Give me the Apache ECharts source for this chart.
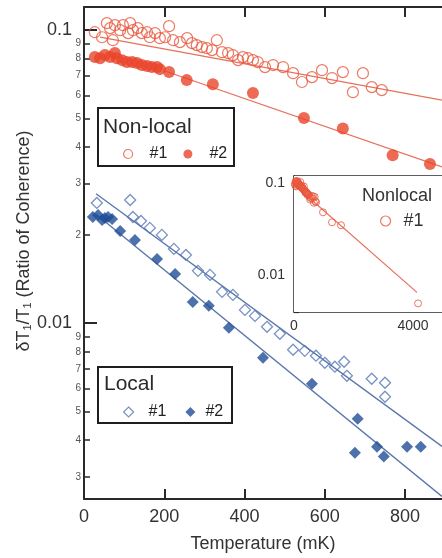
<!DOCTYPE html>
<html>
<head>
<meta charset="utf-8">
<script src="https://cdn.jsdelivr.net/npm/echarts@6/dist/echarts.min.js"></script>
<style>
  html, body { margin: 0; padding: 0; background: #fff; }
  #chart { width: 442px; height: 558px; }
</style>
</head>
<body>
<div id="chart"></div>
<script>
// Temperature (mK) and coherence ratio for each sample
const nonlocal1T = [27, 45, 57, 65, 72, 77, 90, 97, 110, 115, 122, 134, 144, 157, 164, 177, 189, 202, 212, 222,
  239, 257, 269, 281, 294, 306, 319, 331, 344, 359, 371, 384, 396, 408, 421, 433, 451, 471, 496, 521,
  543, 568, 593, 618, 645, 670, 695, 717, 742];
const nonlocal1V = [0.0984, 0.0946, 0.1057, 0.1016, 0.0924, 0.1040, 0.1000, 0.1040, 0.0977, 0.1057, 0.1000, 0.1016,
  0.0977, 0.0984, 0.0946, 0.0977, 0.0939, 0.0946, 0.1032, 0.0924, 0.0910, 0.0939, 0.0903, 0.0889, 0.0875,
  0.0868, 0.0855, 0.0924, 0.0841, 0.0835, 0.0822, 0.0790, 0.0809, 0.0802, 0.0790, 0.0778, 0.0748, 0.0760,
  0.0748, 0.0713, 0.0665, 0.0691, 0.0730, 0.0686, 0.0719, 0.0614, 0.0713, 0.0639, 0.0624];

const nonlocal2T = [27, 40, 52, 65, 77, 82, 95, 107, 120, 132, 144, 157, 169, 182, 189, 212, 256, 321, 421, 548, 645, 769, 862];
const nonlocal2V = [0.0809, 0.0802, 0.0822, 0.0809, 0.0835, 0.0802, 0.0790, 0.0778, 0.0778, 0.0772, 0.0760, 0.0754,
  0.0748, 0.0748, 0.0736, 0.0719, 0.0675, 0.0654, 0.0610, 0.0501, 0.0461, 0.0374, 0.0349];

const local1T = [32, 115, 122, 142, 164, 194, 224, 254, 284, 314, 344, 371, 401, 426, 456, 488, 521, 550, 578, 600,
  625, 648, 655, 717, 750, 750];
const local1V = [0.02568, 0.02629, 0.02300, 0.02229, 0.02110, 0.01997, 0.01789, 0.01706, 0.01505, 0.01458, 0.01276,
  0.01246, 0.01107, 0.01056, 0.00969, 0.00917, 0.00809, 0.00802, 0.00772, 0.00730, 0.00708, 0.00736, 0.00659,
  0.00644, 0.00624, 0.00559];

const local2T = [22, 35, 45, 52, 60, 70, 90, 127, 182, 227, 271, 311, 361, 446, 568, 682, 675, 730, 747, 805, 839];
const local2V = [0.02300, 0.02337, 0.02246, 0.02282, 0.02300, 0.02264, 0.02061, 0.01920, 0.01653, 0.01469, 0.01179,
  0.01143, 0.00961, 0.00760, 0.00619, 0.00470, 0.00360, 0.00377, 0.00349, 0.00377, 0.00377];

// Straight-line (exponential) fits, given by their end points
const nonlocal1FitT = [40, 892];  const nonlocal1FitV = [0.0947, 0.0577];
const nonlocal2FitT = [200, 892]; const nonlocal2FitV = [0.0727, 0.0341];
const local1FitT = [30, 892];     const local1FitV = [0.0276, 0.00378];
const local2FitT = [30, 892];     const local2FitV = [0.0235, 0.00255];

// Inset: non-local #1 over the wider temperature range
const insetExtraT = [975, 1277, 1580, 4170];
const insetExtraV = [0.0484, 0.0377, 0.0350, 0.00496];
const insetFitT = [0, 4134];
const insetFitV = [0.097, 0.00654];

// Axis ticks and labels
const xTicks = [0, 200, 400, 600, 800];
const yMajorTicks = [0.01, 0.1];
const yMajorLabels = ['0.01', '0.1'];
const yMinorTicks = [0.003, 0.004, 0.005, 0.006, 0.007, 0.008, 0.009,
  0.02, 0.03, 0.04, 0.05, 0.06, 0.07, 0.08, 0.09];
const yMinorLabels = ['3', '4', '5', '6', '7', '8', '9', '2', '3', '4', '5', '6', '7', '8', '9'];
const insetXTicks = [2000, 4000];
const insetXLabels = [0, 4000];
const insetYMajorTicks = [0.01, 0.1];
const insetYMinorTicks = [0.004, 0.005, 0.006, 0.007, 0.008, 0.009,
  0.02, 0.03, 0.04, 0.05, 0.06, 0.07, 0.08, 0.09];

const zip = (xs, ys) => xs.map((x, i) => [x, ys[i]]);
const lookup = (ticks, labels) => v => {
  const i = ticks.findIndex(t => Math.abs(t - v) < t * 1e-6);
  return i >= 0 ? labels[i] : '';
};
const plain = v => String(v);

const FONT = '"Liberation Sans", Arial, Helvetica, sans-serif';
const AX = '#2a2a2a';
const TXT = '#333';
const RED = '#e8452b';
const RED_OPEN = '#e8583d';
const RED_LINE = '#e6705a';
const BLUE = '#1f4e96';
const BLUE_OPEN = '#5677b3';
const BLUE_LINE = '#5a76ab';

const MAIN_X = [0, 892];
const MAIN_Y = [0.0025, 0.12];
const INSET_X = [0, 4975];
const INSET_Y = [0.004, 0.12];

const chart = echarts.init(document.getElementById('chart'), null, { renderer: 'canvas' });

const openStyle = (c, w) => ({ color: 'rgba(255,255,255,0)', borderColor: c, borderWidth: w });

chart.setOption({
  animation: false,
  backgroundColor: '#fff',
  textStyle: { fontFamily: FONT },
  grid: [
    { left: 84, top: 7, right: 0, bottom: 58 },
    { left: 84, top: 7, right: 0, bottom: 58 },
    { left: 294, top: 176, right: 0, bottom: 246, show: true, backgroundColor: '#fff', borderWidth: 0, z: 4 },
    { left: 294, top: 176, right: 0, bottom: 246 }
  ],
  xAxis: [
    {
      gridIndex: 0, type: 'value', min: MAIN_X[0], max: MAIN_X[1], position: 'bottom',
      axisLine: { lineStyle: { color: AX, width: 2 } },
      axisTick: { inside: true, length: 10, customValues: xTicks, lineStyle: { color: AX, width: 2 } },
      axisLabel: { customValues: xTicks, formatter: plain, fontSize: 18, color: TXT, margin: 9, fontFamily: FONT },
      splitLine: { show: false },
      name: 'Temperature (mK)', nameLocation: 'middle', nameGap: 36,
      nameTextStyle: { fontSize: 18, color: TXT, fontFamily: FONT }
    },
    {
      gridIndex: 0, type: 'value', min: MAIN_X[0], max: MAIN_X[1], position: 'top',
      axisLine: { lineStyle: { color: AX, width: 2 } },
      axisTick: { inside: true, length: 10, customValues: xTicks, lineStyle: { color: AX, width: 2 } },
      axisLabel: { show: false },
      splitLine: { show: false }
    },
    { gridIndex: 1, type: 'value', min: MAIN_X[0], max: MAIN_X[1], show: false },
    {
      gridIndex: 2, type: 'value', min: INSET_X[0], max: INSET_X[1], position: 'bottom',
      axisLine: { lineStyle: { color: AX, width: 1.5 } },
      axisTick: { inside: true, length: 7, customValues: insetXTicks, lineStyle: { color: AX, width: 1.5 } },
      axisLabel: { customValues: insetXLabels, formatter: plain, fontSize: 14, color: TXT, margin: 7, fontFamily: FONT },
      splitLine: { show: false }
    },
    {
      gridIndex: 2, type: 'value', min: INSET_X[0], max: INSET_X[1], position: 'top',
      axisLine: { lineStyle: { color: AX, width: 1.5 } },
      axisTick: { show: false }, axisLabel: { show: false }, splitLine: { show: false }
    },
    { gridIndex: 3, type: 'value', min: INSET_X[0], max: INSET_X[1], show: false }
  ],
  yAxis: [
    {
      gridIndex: 0, type: 'log', logBase: 10, min: MAIN_Y[0], max: MAIN_Y[1], position: 'left',
      axisLine: { lineStyle: { color: AX, width: 2 } },
      axisTick: { inside: true, length: 13, customValues: yMajorTicks, lineStyle: { color: AX, width: 2 } },
      axisLabel: { customValues: yMajorTicks, formatter: lookup(yMajorTicks, yMajorLabels),
        fontSize: 18, color: TXT, margin: 12, fontFamily: FONT },
      splitLine: { show: false },
      name: 'δT₁/T₁ (Ratio of Coherence)', nameLocation: 'middle', nameGap: 51, nameMoveOverlap: false,
      nameTextStyle: { fontSize: 18, color: TXT, fontFamily: FONT, padding: [0, 0, 0, 24] }
    },
    {
      gridIndex: 1, type: 'log', logBase: 10, min: MAIN_Y[0], max: MAIN_Y[1], position: 'left',
      axisLine: { show: false },
      axisTick: { inside: true, length: 6, customValues: yMinorTicks, lineStyle: { color: AX, width: 1.5 } },
      axisLabel: { customValues: yMinorTicks, formatter: lookup(yMinorTicks, yMinorLabels),
        fontSize: 10, color: '#555', margin: 3, fontFamily: FONT },
      splitLine: { show: false }
    },
    {
      gridIndex: 2, type: 'log', logBase: 10, min: INSET_Y[0], max: INSET_Y[1], position: 'left',
      axisLine: { lineStyle: { color: AX, width: 1.5 } },
      axisTick: { inside: true, length: 9, customValues: insetYMajorTicks, lineStyle: { color: AX, width: 1.5 } },
      axisLabel: { customValues: insetYMajorTicks, formatter: lookup(yMajorTicks, yMajorLabels),
        fontSize: 14, color: TXT, margin: 9, fontFamily: FONT },
      splitLine: { show: false }
    },
    {
      gridIndex: 3, type: 'log', logBase: 10, min: INSET_Y[0], max: INSET_Y[1], position: 'left',
      axisLine: { show: false },
      axisTick: { inside: true, length: 5, customValues: insetYMinorTicks, lineStyle: { color: AX, width: 1.2 } },
      axisLabel: { show: false },
      splitLine: { show: false }
    }
  ],
  legend: [
    {
      data: ['Non-local #1', 'Non-local #2'],
      left: 118, top: 141, itemWidth: 9, itemHeight: 9, itemGap: 16, z: 8,
      formatter: n => n.slice(n.indexOf('#')),
      textStyle: { fontSize: 16, color: '#222', fontFamily: FONT, padding: [0, 0, 0, 12] },
      itemStyle: { borderWidth: 1.2 }
    },
    {
      data: [
        { name: 'Local #1', textStyle: { padding: [0, 0, 0, 10] } },
        { name: 'Local #2', textStyle: { padding: [0, 0, 0, 5] } }
      ],
      left: 118, top: 399, itemWidth: 10, itemHeight: 10, itemGap: 19, z: 8,
      formatter: n => n.slice(n.indexOf('#')),
      textStyle: { fontSize: 16, color: '#222', fontFamily: FONT },
      itemStyle: { borderWidth: 1.2 }
    },
    {
      data: ['Nonlocal #1 (wide range)'],
      left: 375, top: 207, itemWidth: 10, itemHeight: 10, z: 8,
      formatter: n => n.slice(n.indexOf('#'), n.indexOf('#') + 2),
      textStyle: { fontSize: 18, color: TXT, fontFamily: FONT, padding: [0, 0, 0, 8] },
      itemStyle: { borderWidth: 1.2 }
    }
  ],
  graphic: [
    { type: 'rect', z: 6, shape: { x: 98, y: 108, width: 136, height: 58 },
      style: { fill: '#fff', stroke: '#1e1e1e', lineWidth: 2 } },
    { type: 'text', z: 7, x: 103, y: 127,
      style: { text: 'Non-local', fontSize: 21, fontFamily: FONT, fill: '#2a2a2a', verticalAlign: 'middle' } },
    { type: 'rect', z: 6, shape: { x: 98, y: 367, width: 134, height: 56 },
      style: { fill: '#fff', stroke: '#1e1e1e', lineWidth: 2 } },
    { type: 'text', z: 7, x: 104, y: 384,
      style: { text: 'Local', fontSize: 21, fontFamily: FONT, fill: '#2a2a2a', verticalAlign: 'middle' } },
    { type: 'text', z: 7, x: 397, y: 196,
      style: { text: 'Nonlocal', fontSize: 18, fontFamily: FONT, fill: TXT, align: 'center', verticalAlign: 'middle' } }
  ],
  series: [
    { name: 'Non-local fit #1', type: 'line', xAxisIndex: 0, yAxisIndex: 0, data: zip(nonlocal1FitT, nonlocal1FitV),
      showSymbol: false, silent: true, lineStyle: { color: RED_LINE, width: 1.2 }, z: 2 },
    { name: 'Non-local fit #2', type: 'line', xAxisIndex: 0, yAxisIndex: 0, data: zip(nonlocal2FitT, nonlocal2FitV),
      showSymbol: false, silent: true, lineStyle: { color: RED_LINE, width: 1.2 }, z: 2 },
    { name: 'Local fit #1', type: 'line', xAxisIndex: 0, yAxisIndex: 0, data: zip(local1FitT, local1FitV),
      showSymbol: false, silent: true, lineStyle: { color: BLUE_LINE, width: 1.4 }, z: 2 },
    { name: 'Local fit #2', type: 'line', xAxisIndex: 0, yAxisIndex: 0, data: zip(local2FitT, local2FitV),
      showSymbol: false, silent: true, lineStyle: { color: BLUE_LINE, width: 1.4 }, z: 2 },
    { name: 'Non-local #1', type: 'scatter', xAxisIndex: 0, yAxisIndex: 0, data: zip(nonlocal1T, nonlocal1V),
      symbol: 'circle', symbolSize: 11, itemStyle: openStyle(RED_OPEN, 1.2), z: 3 },
    { name: 'Non-local #2', type: 'scatter', xAxisIndex: 0, yAxisIndex: 0, data: zip(nonlocal2T, nonlocal2V),
      symbol: 'circle', symbolSize: 12, itemStyle: { color: RED }, z: 3 },
    { name: 'Local #1', type: 'scatter', xAxisIndex: 0, yAxisIndex: 0, data: zip(local1T, local1V),
      symbol: 'diamond', symbolSize: 11, itemStyle: openStyle(BLUE_OPEN, 1.3), z: 3 },
    { name: 'Local #2', type: 'scatter', xAxisIndex: 0, yAxisIndex: 0, data: zip(local2T, local2V),
      symbol: 'diamond', symbolSize: 12, itemStyle: { color: BLUE }, z: 3 },
    { name: 'Nonlocal fit (wide range)', type: 'line', xAxisIndex: 3, yAxisIndex: 2, data: zip(insetFitT, insetFitV),
      showSymbol: false, silent: true, lineStyle: { color: RED_LINE, width: 1.2 }, z: 5 },
    { name: 'Nonlocal #1 (wide range)', type: 'scatter', xAxisIndex: 3, yAxisIndex: 2,
      data: zip(nonlocal1T, nonlocal1V).concat(zip(insetExtraT, insetExtraV)),
      symbol: 'circle', symbolSize: 7, itemStyle: openStyle(RED_OPEN, 1), z: 6 }
  ]
});
</script>
</body>
</html>
